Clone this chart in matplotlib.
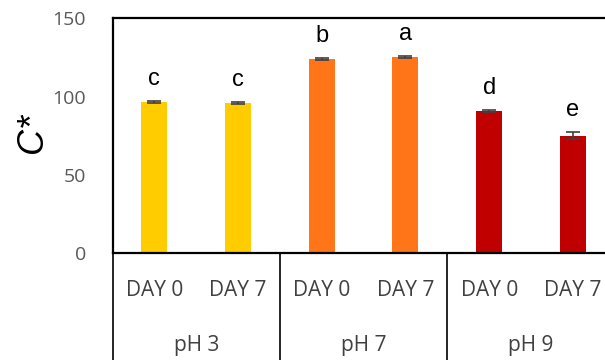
import numpy as np
import matplotlib.pyplot as plt

# values
days = ["DAY 0", "DAY 7", "DAY 0", "DAY 7", "DAY 0", "DAY 7"]
groups = ["pH 3", "pH 7", "pH 9"]
cstar = [96.5, 96.0, 124.0, 125.2, 90.7, 75.0]
err = [0.6, 0.6, 0.6, 0.6, 0.6, 2.2]
letters = ["c", "c", "b", "a", "d", "e"]
colors = ["#FFCC00", "#FFCC00", "#FF7518", "#FF7518", "#C00000", "#C00000"]

fig = plt.figure(figsize=(6.05, 3.6), dpi=100)
ax = fig.add_axes([0.186, 0.297, 0.83, 0.652])

x = np.arange(len(cstar))
ax.bar(x, cstar, width=0.31, color=colors, zorder=2)
ax.errorbar(x, cstar, yerr=err, fmt="none", ecolor="#404040",
            elinewidth=1.2, capsize=5, capthick=1.2, zorder=3)

for i in range(len(cstar)):
    ax.text(x[i], cstar[i] + err[i] + 7, letters[i], ha="center", va="bottom",
            fontsize=17, family="Liberation Sans", color="black")

ax.set_xlim(-0.5, 5.5)
ax.set_ylim(0, 150)
ax.set_yticks([0, 50, 100, 150])
ax.tick_params(axis="y", length=0, pad=19, labelsize=14, labelcolor="#595959")
for lab in ax.get_yticklabels():
    lab.set_family("Open Sans")
ax.set_xticks([])

for s in ["left", "top", "bottom"]:
    ax.spines[s].set_linewidth(1.6)
    ax.spines[s].set_color("black")
ax.spines["right"].set_visible(False)

ax.set_ylabel("C*", fontsize=26, style="italic", family="Liberation Sans",
              va="center")
ax.yaxis.set_label_coords(-0.16, 0.51)

# multi-level category box under the axis
trans = ax.get_xaxis_transform()
for xs in [-0.5, 1.5, 3.5]:
    ax.plot([xs, xs], [0, -0.5], color="black", lw=1.2, transform=trans,
            clip_on=False)
for i in range(len(days)):
    ax.text(x[i], -0.16, days[i], transform=trans, ha="center", va="center",
            fontsize=15, family="Open Sans", color="#404040")
for j in range(len(groups)):
    ax.text(2 * j + 0.5, -0.395, groups[j], transform=trans, ha="center",
            va="center", fontsize=15, family="Open Sans", color="#404040")

fig.savefig("out.png", dpi=100)
